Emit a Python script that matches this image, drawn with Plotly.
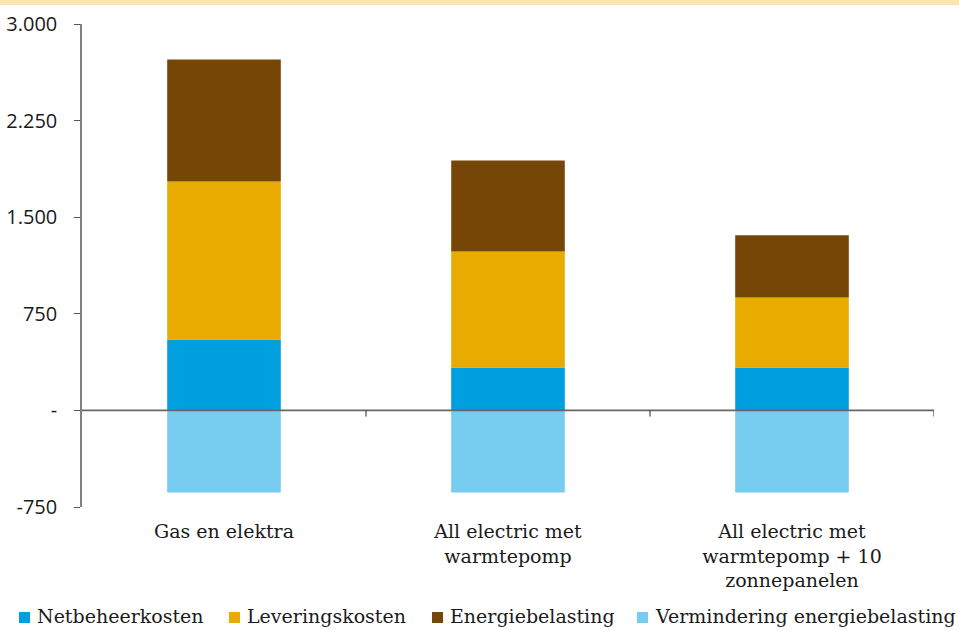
import plotly.graph_objects as go

categories = ["Gas en elektra", "All electric met<br>warmtepomp", "All electric met<br>warmtepomp + 10<br>zonnepanelen"]
netbeheer = [551, 334, 334]
levering = [1227, 900, 543]
energiebelasting = [947, 707, 482]
vermindering = [-637, -637, -637]

series = [
    ("Netbeheerkosten", netbeheer, "#009FE0"),
    ("Leveringskosten", levering, "#E9AB00"),
    ("Energiebelasting", energiebelasting, "#764607"),
    ("Vermindering energiebelasting", vermindering, "#76CDF0"),
]

tickvals = [-750, 0, 750, 1500, 2250, 3000]
ticktext = ["-750", "-", "750", "1.500", "2.250", "3.000"]

serif = "DejaVu Serif"
sans = "Open Sans"

W, H = 959, 630
ml, mr, mt, mb = 82, 25, 24, 123
pw = W - ml - mr
ph = H - mt - mb

def px_x(px):
    return (px - ml) / pw

def px_y(py):
    return (H - mb - py) / ph

fig = go.Figure()
for name, vals, col in series:
    fig.add_trace(go.Bar(x=categories, y=vals, name=name, marker=dict(color=col, line=dict(width=0)),
                         width=0.4, showlegend=False))

shapes = [
    dict(type="rect", xref="paper", yref="paper", x0=px_x(0), x1=px_x(W),
         y0=px_y(5), y1=px_y(0), fillcolor="#FCE4B4", line=dict(width=0), layer="below"),
    dict(type="line", xref="paper", yref="y", x0=0, x1=1, y0=0, y1=0, line=dict(color="#666666", width=1.6)),
]
for b in [0.5, 1.5, 2.5]:
    shapes.append(dict(type="line", xref="x", yref="y", x0=b, x1=b, y0=0, y1=-48,
                       line=dict(color="#444444", width=1.2)))

# manual legend (single row, like the reference)
legend_x = [19, 229, 432, 637]
annotations = []
for (name, vals, col), lx in zip(series, legend_x):
    shapes.append(dict(type="rect", xref="paper", yref="paper", x0=px_x(lx), x1=px_x(lx + 11),
                       y0=px_y(623), y1=px_y(612), fillcolor=col, line=dict(width=0)))
    annotations.append(dict(text=name, xref="paper", yref="paper", x=px_x(lx + 16), y=px_y(616),
                            xanchor="left", yanchor="middle", showarrow=False,
                            font=dict(family=serif, size=19, color="#1a1a1a")))

fig.update_layout(
    width=W, height=H,
    margin=dict(l=ml, r=mr, t=mt, b=mb, autoexpand=False),
    barmode="relative",
    plot_bgcolor="white", paper_bgcolor="white",
    shapes=shapes,
    annotations=annotations,
    showlegend=False,
    xaxis=dict(range=[-0.5, 2.5], showline=False, ticks="", showgrid=False, zeroline=False,
               tickfont=dict(family=serif, size=19, color="#1a1a1a"), ticklabelstandoff=11),
    yaxis=dict(range=[-750, 3000], tickvals=tickvals, ticktext=ticktext, showgrid=False, zeroline=False,
               showline=True, linecolor="#808080", linewidth=1.5, ticks="outside", ticklen=6,
               tickcolor="#555555", tickfont=dict(family=sans, size=20, color="#1a1a1a"),
               ticklabelstandoff=13),
)

fig.write_html("out.html", config={"displayModeBar": False},
               post_script="document.body.style.margin='0';document.body.style.overflow='hidden';")
